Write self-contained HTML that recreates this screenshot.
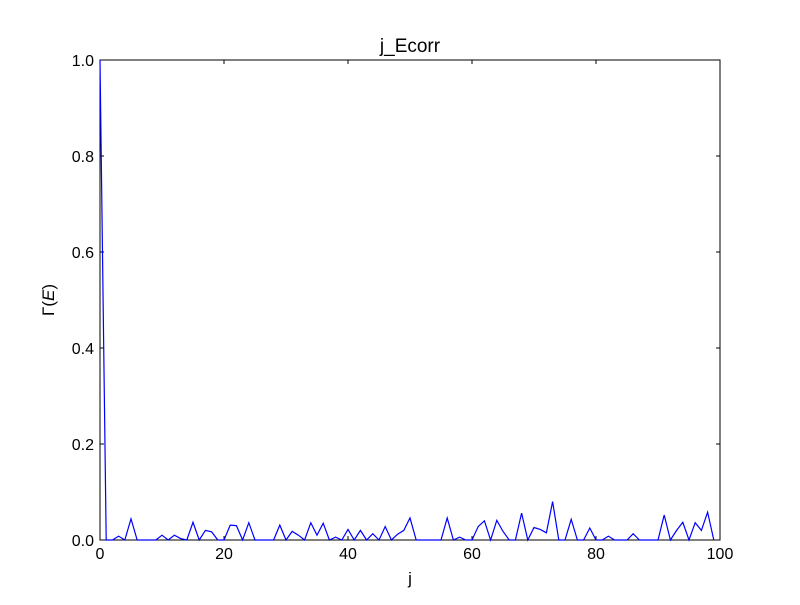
<!DOCTYPE html>
<html><head><meta charset="utf-8"><style>
body{margin:0;background:#fff;}
svg text{font-family:"Liberation Sans",sans-serif;}
</style></head><body>
<svg id="chart" width="800" height="600">
<rect width="800" height="600" fill="#fff"/>
</svg>
<script>
const xTicks=[0,20,40,60,80,100];
const yTicks=[0.0,0.2,0.4,0.6,0.8,1.0];
const yTickLabels=["0.0","0.2","0.4","0.6","0.8","1.0"];
const values=[1.0,0,0,0.008,0,0.044,0,0,0,0,0.01,0,0.01,0.003,0,0.037,0,0.02,0.017,0,0,0.031,0.03,0,0.036,0,0,0,0,0.031,0,0.018,0.01,0,0.036,0.01,0.035,0,0.006,0,0.022,0,0.02,0,0.013,0,0.028,0,0.012,0.02,0.046,0,0,0,0,0,0.046,0,0.006,0,0,0.028,0.04,0,0.041,0.018,0,0,0.056,0,0.026,0.022,0.015,0.08,0,0,0.043,0,0,0.025,0,0,0.008,0,0,0,0.013,0,0,0,0,0.052,0,0.02,0.037,0,0.036,0.02,0.058,0];
const L=100,R=720,T=60,B=540;
const xs=v=>L+(v-0)/100*(R-L);
const ys=v=>B-v*(B-T);
const svg=document.getElementById('chart');
const NS='http://www.w3.org/2000/svg';
function mk(tag,attrs,text){const e=document.createElementNS(NS,tag);for(const k in attrs)e.setAttribute(k,attrs[k]);if(text!==undefined)e.textContent=text;svg.appendChild(e);return e;}
const frame=mk('rect',{x:L,y:T,width:R-L,height:B-T,fill:'none',stroke:'#000','stroke-width':1});


xTicks.forEach(t=>{
  const x=xs(t);
  mk('line',{x1:x,y1:B,x2:x,y2:B-4,stroke:'#000'});
  mk('line',{x1:x,y1:T,x2:x,y2:T+4,stroke:'#000'});
  const lb=mk('text',{x:x,y:B+19,'text-anchor':'middle','font-size':16},String(t));
  
  
});
yTicks.forEach((t,i)=>{
  const y=ys(t);
  mk('line',{x1:L,y1:y,x2:L+4,y2:y,stroke:'#000'});
  mk('line',{x1:R,y1:y,x2:R-4,y2:y,stroke:'#000'});
  const lb=mk('text',{x:L-6,y:y+6,'text-anchor':'end','font-size':16},yTickLabels[i]);
  
  
});
const pts=values.map((v,i)=>xs(i)+','+ys(v)).join(' ');
const line=mk('polyline',{points:pts,fill:'none',stroke:'#0000ff','stroke-width':1.2});


const title=mk('text',{x:410,y:52,'text-anchor':'middle','font-size':19},'j_Ecorr');


const xl=mk('text',{x:410,y:584,'text-anchor':'middle','font-size':17},'j');


const yl=mk('text',{x:0,y:0,'text-anchor':'middle','font-size':17,'font-family':'Liberation Serif,serif',transform:'translate(54,300) rotate(-90)'});
yl.innerHTML='Γ(<tspan font-style="italic">E</tspan>)';


</script>
</body></html>
